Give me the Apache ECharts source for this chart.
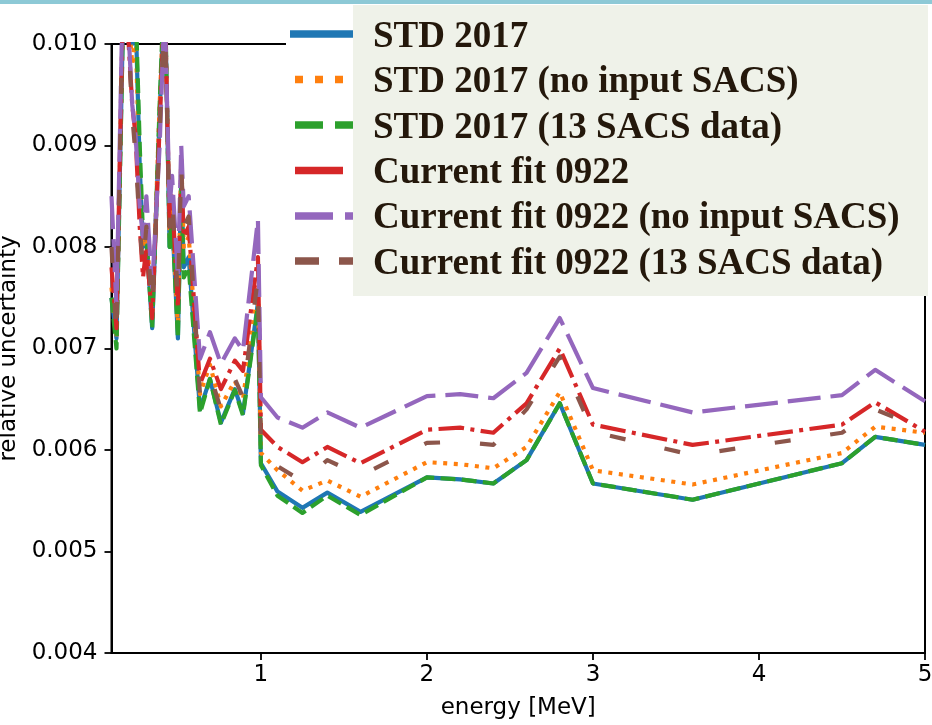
<!DOCTYPE html>
<html>
<head>
<meta charset="utf-8">
<script src="https://cdn.jsdelivr.net/npm/echarts@6/dist/echarts.min.js"></script>
<style>html,body{margin:0;padding:0;background:#fff}#chart{width:932px;height:725px}</style>
</head>
<body>
<div id="chart"></div>
<script>
// energy grid [MeV]
var energy = [0.10, 0.13, 0.175, 0.20, 0.225, 0.245, 0.27, 0.29, 0.31, 0.345, 0.39, 0.42, 0.45, 0.465, 0.50, 0.52, 0.535, 0.565,
  0.633, 0.693, 0.759, 0.843, 0.892, 0.982, 1.0, 1.1, 1.25, 1.4, 1.6, 2.0, 2.2, 2.4, 2.6, 2.8, 3.0, 3.6, 4.5, 4.7, 5.0];

var std2017 = [0.0075, 0.0071, 0.0107, 0.0104, 0.0100, 0.0103, 0.0088, 0.0080, 0.0081, 0.0072, 0.0093, 0.0106, 0.0080, 0.0083, 0.0071, 0.0087, 0.0078, 0.0079,
  0.00640, 0.00670, 0.00627, 0.00660, 0.00636, 0.00745, 0.00587, 0.00559, 0.00543, 0.00558, 0.00539, 0.00573, 0.00571, 0.00567, 0.00590, 0.00646, 0.00567, 0.00551, 0.00587, 0.00613, 0.00605];

var std2017NoSacs = [0.0076, 0.0071, 0.0108, 0.0103, 0.0098, 0.0101, 0.0087, 0.0080, 0.0082, 0.0073, 0.0094, 0.0106, 0.0081, 0.0084, 0.0072, 0.0089, 0.0080, 0.0081,
  0.00655, 0.00684, 0.00643, 0.00668, 0.00650, 0.00760, 0.00597, 0.00580, 0.00560, 0.00570, 0.00554, 0.00588, 0.00586, 0.00582, 0.00603, 0.00657, 0.00580, 0.00566, 0.00597, 0.00623, 0.00617];

var std2017Sacs13 = [0.0075, 0.0070, 0.0107, 0.0104, 0.0101, 0.0104, 0.0090, 0.0081, 0.0081, 0.0072, 0.0094, 0.0107, 0.0080, 0.0083, 0.0071, 0.0086, 0.0077, 0.0078,
  0.00636, 0.00670, 0.00625, 0.00659, 0.00634, 0.00742, 0.00585, 0.00555, 0.00538, 0.00555, 0.00536, 0.00573, 0.00571, 0.00567, 0.00590, 0.00646, 0.00567, 0.00551, 0.00587, 0.00613, 0.00605];

var fit0922 = [0.0078, 0.0072, 0.0109, 0.0101, 0.0094, 0.0091, 0.0082, 0.0077, 0.0080, 0.0073, 0.0092, 0.0105, 0.0082, 0.0085, 0.0074, 0.0088, 0.0081, 0.0082,
  0.00665, 0.00690, 0.00660, 0.00688, 0.00678, 0.00790, 0.00620, 0.00603, 0.00588, 0.00603, 0.00587, 0.00620, 0.00622, 0.00617, 0.00646, 0.00700, 0.00625, 0.00605, 0.00625, 0.00647, 0.00618];

var fit0922NoSacs = [0.0085, 0.0074, 0.0111, 0.0102, 0.0094, 0.0091, 0.0084, 0.0081, 0.0085, 0.0076, 0.0090, 0.0104, 0.0084, 0.0087, 0.0077, 0.0090, 0.0084, 0.0085,
  0.00690, 0.00716, 0.00685, 0.00710, 0.00698, 0.00827, 0.00652, 0.00632, 0.00622, 0.00637, 0.00622, 0.00653, 0.00655, 0.00651, 0.00676, 0.00730, 0.00661, 0.00637, 0.00654, 0.00679, 0.00648];

var fit0922Sacs13 = [0.0080, 0.0071, 0.0110, 0.0101, 0.0093, 0.0089, 0.0082, 0.0078, 0.0082, 0.0074, 0.0091, 0.0104, 0.0082, 0.0085, 0.0075, 0.0088, 0.0082, 0.0083,
  0.00655, 0.00675, 0.00640, 0.00670, 0.00652, 0.00770, 0.00603, 0.00584, 0.00569, 0.00590, 0.00575, 0.00607, 0.00608, 0.00605, 0.00640, 0.00692, 0.00618, 0.00595, 0.00617, 0.00640, 0.00620];

var seriesNames = ['STD 2017', 'STD 2017 (no input SACS)', 'STD 2017 (13 SACS data)',
  'Current fit 0922', 'Current fit 0922 (no input SACS)', 'Current fit 0922 (13 SACS data)'];
var xTicks = [1, 2, 3, 4, 5];

var seriesValues = [std2017, std2017NoSacs, std2017Sacs13, fit0922, fit0922NoSacs, fit0922Sacs13];
var colors = ['#1f77b4', '#ff7f0e', '#2ca02c', '#d62728', '#9467bd', '#8c564b'];
var plotDash = [null, [4, 6.6], [14.8, 6.4], [25.6, 6.4, 4, 6.4], [33, 10], [16, 40]];
var legDash = [null, [8, 12], [28, 12], [48, 12, 7.5, 12], [38, 12], [24, 20]];

function pairs(vals) { return energy.map(function (e, i) { return [e, vals[i]]; }); }

var series = seriesValues.map(function (vals, k) {
  return {
    name: seriesNames[k], type: 'line', data: pairs(vals), symbol: 'none', clip: true,
    animation: false, z: 2 + k,
    lineStyle: { color: colors[k], width: 4.2, type: plotDash[k] || 'solid', cap: 'butt', join: 'round' }
  };
});

var axisFont = { fontFamily: 'DejaVu Sans', fontSize: 23, color: '#000' };
var graphics = [
  { type: 'rect', shape: { x: 0, y: 0, width: 932, height: 4 }, style: { fill: '#8dc9d6' }, z: 200 },
  { type: 'rect', shape: { x: 286, y: 5, width: 67, height: 291 }, style: { fill: '#ffffff' }, z: 100 },
  { type: 'rect', shape: { x: 353, y: 5, width: 575, height: 291 }, style: { fill: '#eff2e9' }, z: 100 }
];
var symY = [34, 79.5, 125, 170.5, 216, 261];
var txtY = [37.5, 82.8, 128.1, 173.4, 218.7, 264];
for (var k = 0; k < 6; k++) {
  graphics.push({
    type: 'line', z: 101,
    shape: { x1: k === 0 ? 290 : 295, y1: symY[k], x2: 353, y2: symY[k] },
    style: { stroke: colors[k], lineWidth: 7.5, lineDash: legDash[k] || null, lineCap: 'butt' }
  });
  graphics.push({
    type: 'text', z: 101, x: 373, y: txtY[k],
    style: { text: seriesNames[k], fontFamily: 'Liberation Serif', fontWeight: 'bold', fontSize: 37,
      fill: '#24180b', verticalAlign: 'middle', align: 'left' }
  });
}

var chart = echarts.init(document.getElementById('chart'), null, { renderer: 'canvas' });
chart.setOption({
  animation: false,
  backgroundColor: '#ffffff',
  grid: { left: 111.5, right: 7, top: 44, bottom: 72, show: true, borderColor: '#000', borderWidth: 2, outerBoundsMode: 'none', containLabel: false },
  xAxis: {
    type: 'value', min: 0.1, max: 5,
    axisLine: { onZero: false, lineStyle: { color: '#000', width: 2 } },
    axisTick: { customValues: xTicks, length: 7, lineStyle: { color: '#000', width: 1.8 } },
    axisLabel: Object.assign({ customValues: xTicks, margin: 11, formatter: function (v) { return String(v); } }, axisFont),
    splitLine: { show: false },
    name: 'energy [MeV]', nameLocation: 'middle', nameGap: 44, nameTextStyle: axisFont
  },
  yAxis: {
    type: 'value', min: 0.004, max: 0.010, interval: 0.001,
    axisLine: { onZero: false, lineStyle: { color: '#000', width: 2 } },
    axisTick: { length: 7, lineStyle: { color: '#000', width: 1.8 } },
    axisLabel: Object.assign({ margin: 14, formatter: function (v) { return v.toFixed(3); } }, axisFont),
    splitLine: { show: false },
    name: 'relative uncertainty', nameLocation: 'middle', nameGap: 89, nameRotate: 90, nameTextStyle: axisFont
  },
  series: series,
  graphic: graphics
});
</script>
</body>
</html>
